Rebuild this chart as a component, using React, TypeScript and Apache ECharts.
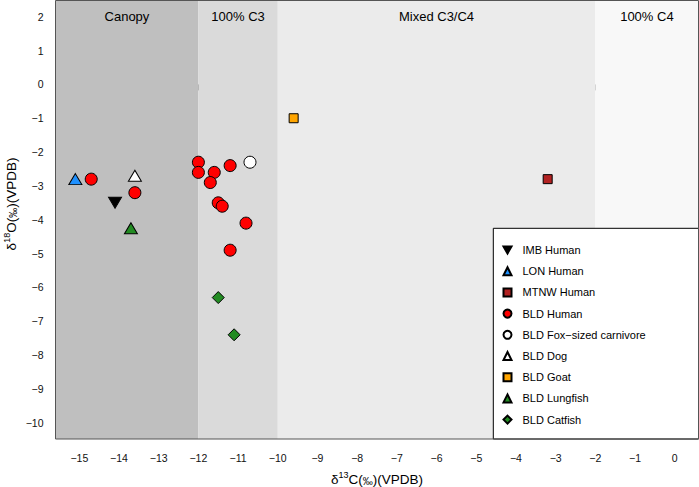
import React, { useEffect, useRef } from "react";
import * as echarts from "echarts";

// Data (δ13C, δ18O)
const imbHuman = [[-14.1, -3.5]];
const lonHuman = [[-15.1, -2.8]];
const mtnwHuman = [[-3.2, -2.8]];
const bldHuman = [
  [-14.7, -2.8], [-13.6, -3.2], [-12.0, -2.3], [-12.0, -2.6], [-11.6, -2.6],
  [-11.2, -2.4], [-11.7, -2.9], [-11.5, -3.5], [-11.4, -3.6], [-10.8, -4.1],
  [-11.2, -4.9],
];
const bldFox = [[-10.7, -2.3]];
const bldDog = [[-13.6, -2.7]];
const bldGoat = [[-9.6, -1.0]];
const bldLungfish = [[-13.7, -4.25]];
const bldCatfish = [[-11.5, -6.3], [-11.1, -7.4]];

const regionNames = ["Canopy", "100% C3", "Mixed C3/C4", "100% C4"];
const regionStart = [-15.6, -12, -10, -2];
const regionEnd = [-12, -10, -2, 0.6];
const regionColors = ["#bfbfbf", "#dadada", "#ebebeb", "#f8f8f8"];

const xTicks = [-15, -14, -13, -12, -11, -10, -9, -8, -7, -6, -5, -4, -3, -2, -1, 0];
const yTicks = [-10, -9, -8, -7, -6, -5, -4, -3, -2, -1, 0, 1, 2];

const X_MIN = -15.6, X_MAX = 0.6, Y_MIN = -10.48, Y_MAX = 2.48;

const FONT = "'Liberation Sans', Arial, Helvetica, sans-serif";
const G = { left: 55.5, right: 0.5, top: 0.5, bottom: 48 };
const W = 699, H = 487;
const DOWN_TRI = "path://M0,0L10,0L5,8.66Z";

const fmt = (v: number) => String(v).replace("-", "\u2212");

export default function App() {
  const ref = useRef<HTMLDivElement>(null);
  useEffect(() => {
    if (!ref.current) return;
    const chart = echarts.init(ref.current, undefined, { renderer: "svg" });
    const pw = W - G.left - G.right;
    const ph = H - G.top - G.bottom;
    const mk = (name: string, data: number[][], symbol: string, size: any, color: string) => ({
      name,
      type: "scatter",
      data,
      symbol,
      symbolSize: size,
      z: 3,
      emphasis: { disabled: true },
      itemStyle: { color, borderColor: "#000", borderWidth: 1, opacity: 1 },
    });
    const rich = {
      a: { fontSize: 13.5, fontFamily: FONT, color: "#000" },
      s: { fontSize: 9, fontFamily: FONT, color: "#000", padding: [0, 0, 8, 0] },
      p: { fontSize: 10, fontFamily: FONT, color: "#000", padding: [4, 0, 0, 0] },
    };
    const legendNames = [
      "IMB Human", "LON Human", "MTNW Human", "BLD Human", "BLD Fox\u2212sized carnivore",
      "BLD Dog", "BLD Goat", "BLD Lungfish", "BLD Catfish",
    ];
    chart.setOption({
      animation: false,
      grid: { ...G, containLabel: false },
      xAxis: {
        type: "value",
        min: X_MIN,
        max: X_MAX,
        axisLine: { show: false },
        splitLine: { show: false },
        axisTick: { show: true, length: 6, customValues: xTicks, lineStyle: { color: "#555" } },
        axisLabel: { customValues: xTicks, formatter: fmt, fontSize: 10.5, fontFamily: FONT, color: "#111", margin: 13 },
      },
      yAxis: {
        type: "value",
        min: Y_MIN,
        max: Y_MAX,
        axisLine: { show: false },
        splitLine: { show: false },
        axisTick: { show: true, length: 6, customValues: yTicks, lineStyle: { color: "#555" } },
        axisLabel: { customValues: yTicks, formatter: fmt, fontSize: 10.5, fontFamily: FONT, color: "#111", margin: 12 },
      },
      legend: {
        orient: "vertical",
        left: 502.5,
        top: 243,
        padding: 0,
        itemWidth: 8,
        itemHeight: 8,
        itemGap: 7.2,
        z: 10,
        selectedMode: false,
        textStyle: { fontSize: 11, fontFamily: FONT, color: "#000", lineHeight: 14, padding: [0, 0, 0, 6] },
        data: legendNames.map((n) => (n === "IMB Human" ? { name: n, icon: DOWN_TRI } : { name: n })),
      },
      graphic: [
        {
          type: "rect",
          z: 5,
          shape: { x: 493.3, y: 228.3, width: W - G.right - 493.3, height: H - G.bottom - 228.3 },
          style: { fill: "#fff", stroke: "#000", lineWidth: 1 },
        },
        {
          type: "rect",
          z: 6,
          shape: { x: G.left, y: G.top, width: pw, height: ph },
          style: { fill: "none", stroke: "#555", lineWidth: 1 },
        },
        {
          type: "text",
          x: G.left + pw / 2,
          y: 479,
          style: {
            text: "{a|δ}{s|13}{a|C(}{p|‰}{a|)(VPDB)}",
            rich,
            align: "center",
            verticalAlign: "middle",
          },
        },
        {
          type: "text",
          x: 11,
          y: 204,
          rotation: Math.PI / 2,
          style: {
            text: "{a|δ}{s|18}{a|O(}{p|‰}{a|)(VPDB)}",
            rich,
            align: "center",
            verticalAlign: "middle",
          },
        },
      ],
      series: [
        {
          name: "regions",
          type: "custom",
          z: 1,
          silent: true,
          data: regionNames.map((n, i) => [regionStart[i], regionEnd[i], i]),
          encode: { x: [0, 1] },
          renderItem: (params: any, api: any) => {
            const i = api.value(2);
            const p0 = api.coord([api.value(0), Y_MAX]);
            const p1 = api.coord([api.value(1), Y_MIN]);
            return {
              type: "group",
              children: [
                {
                  type: "rect",
                  shape: { x: p0[0], y: p0[1], width: p1[0] - p0[0], height: p1[1] - p0[1] },
                  style: { fill: regionColors[i] },
                },
                {
                  type: "text",
                  style: {
                    text: regionNames[i],
                    x: (p0[0] + p1[0]) / 2,
                    y: p0[1] + 16,
                    align: "center",
                    verticalAlign: "middle",
                    fontSize: 13,
                    fontFamily: FONT,
                    fill: "#000",
                  },
                },
              ],
            };
          },
        },
        mk("IMB Human", imbHuman, DOWN_TRI, [13, 11], "#000"),
        mk("LON Human", lonHuman, "triangle", [13, 11], "#1e90ff"),
        mk("MTNW Human", mtnwHuman, "rect", 9, "#b22222"),
        mk("BLD Human", bldHuman, "circle", 12, "#ff0000"),
        mk("BLD Fox\u2212sized carnivore", bldFox, "circle", 12, "#ffffff"),
        mk("BLD Dog", bldDog, "triangle", [13, 11], "#ffffff"),
        mk("BLD Goat", bldGoat, "rect", 9, "#ffa500"),
        mk("BLD Lungfish", bldLungfish, "triangle", [13, 11], "#228b22"),
        mk("BLD Catfish", bldCatfish, "diamond", 12, "#228b22"),
      ],
    });
    return () => chart.dispose();
  }, []);
  return <div ref={ref} style={{ position: "absolute", left: 0, top: 0, width: W, height: H }} />;
}
